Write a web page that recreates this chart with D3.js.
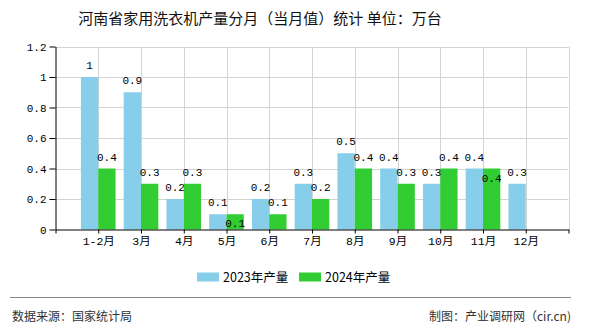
<!DOCTYPE html>
<html><head><meta charset="utf-8">
<script src="https://cdn.jsdelivr.net/npm/d3@7/dist/d3.min.js"></script>
<style>
html,body{margin:0;padding:0;background:#fff;}
svg{display:block;}
</style></head>
<body><svg id="c" width="590" height="330"></svg>
<script>
const categories = ["1-2月","3月","4月","5月","6月","7月","8月","9月","10月","11月","12月"];
const values2023 = [1, 0.9, 0.2, 0.1, 0.2, 0.3, 0.5, 0.4, 0.3, 0.4, 0.3];
const values2024 = [0.4, 0.3, 0.3, 0.1, 0.1, 0.2, 0.4, 0.3, 0.4, 0.4, null];
const seriesNames = ["2023年产量","2024年产量"];
const seriesColors = ["#87CEEB","#32CD32"];
const yTicks = [0, 0.2, 0.4, 0.6, 0.8, 1, 1.2];
const yTickLabels = ["0","0.2","0.4","0.6","0.8","1","1.2"];
const title = "河南省家用洗衣机产量分月（当月值）统计 单位：万台";
const sourceText = "数据来源：国家统计局";
const creditText = "制图：产业调研网（cir.cn)";

(function(){
const svg = d3.select("#c");
const pL = 55.5, pR = 568.5, pT = 46.5, pB = 229.5;
const monoFont = "'Liberation Mono','DejaVu Sans Mono','Noto Sans CJK SC',monospace";
const cjkFont = "'Noto Sans CJK SC','Noto Sans',sans-serif";

const slots = ["__s", ...categories, "__e"];
const x = d3.scalePoint().domain(slots).range([pL, pR]);
const step = x.step();
const xs = d3.scaleBand().domain([0,1]).range([-step*0.405, step*0.405]).paddingInner(0);
const y = d3.scaleLinear().domain([0, 1.2]).range([pB, pT]);

// title
svg.append("text").attr("x", 260).attr("y", 23.5).attr("text-anchor","middle")
  .attr("font-family", cjkFont).attr("font-size", 15).attr("fill","#111").text(title);

// grid
const g = svg.append("g");
g.selectAll("line.hg").data(yTicks.slice(1)).join("line")
  .attr("x1", pL).attr("x2", pR).attr("y1", d=>Math.round(y(d))+0.5).attr("y2", d=>Math.round(y(d))+0.5)
  .attr("stroke","#d3d3d3").attr("stroke-width",1);
g.selectAll("line.vg").data(slots.slice(1)).join("line")
  .attr("x1", d=>Math.round(x(d))+0.5).attr("x2", d=>Math.round(x(d))+0.5)
  .attr("y1", pT).attr("y2", pB)
  .attr("stroke","#d3d3d3").attr("stroke-width",1);

// bars
const series = [values2023, values2024];
series.forEach((vals, si) => {
  svg.append("g").selectAll("rect").data(categories.map((c,i)=>({c, v: vals[i]})).filter(d=>d.v!=null))
    .join("rect")
    .attr("x", d => x(d.c) + xs(si))
    .attr("width", xs.bandwidth())
    .attr("y", d => y(d.v))
    .attr("height", d => y(0) - y(d.v))
    .attr("fill", seriesColors[si]);
});

// labels
const labG = svg.append("g").attr("font-family", monoFont).attr("font-size", 11).attr("fill","#000").attr("text-anchor","middle");
series.forEach((vals, si) => {
  categories.forEach((c, i) => {
    const v = vals[i];
    if (v == null) return;
    let ly = y(v) - 8;
    if (si === 1 && values2023[i] != null && Math.abs(y(values2023[i]) - y(v)) < 12) {
      ly = y(v) + 13; // avoid overlap: push inside bar
    }
    labG.append("text").attr("x", x(c) + xs(si) + xs.bandwidth()/2).attr("y", ly).text(String(v));
  });
});

// axes
const yAxis = d3.axisLeft(y).tickValues(yTicks).tickFormat((d,i)=>yTickLabels[i]).tickSize(6).tickSizeOuter(0);
const ya = svg.append("g").attr("transform", `translate(${pL},0)`).call(yAxis);
ya.select(".domain").attr("stroke","#000");
ya.selectAll(".tick line").attr("stroke","#000");
ya.selectAll(".tick text").attr("font-family", monoFont).attr("font-size", 11).attr("fill","#000").attr("x",-9);

const xAxis = d3.axisBottom(x).tickSize(4).tickSizeOuter(0).tickFormat(d => d.startsWith("__") ? "" : d);
const xa = svg.append("g").attr("transform", `translate(0,${pB})`).call(xAxis);
xa.select(".domain").attr("stroke","#000");
xa.selectAll(".tick line").attr("stroke","#000");
xa.selectAll(".tick text").attr("font-family", monoFont).attr("font-size", 11.5).attr("fill","#000").attr("y", 7);

// legend
const lg = svg.append("g");
const legX = [197, 299];
seriesNames.forEach((n, i) => {
  lg.append("rect").attr("x", legX[i]).attr("y", 272.5).attr("width", 22).attr("height", 9).attr("fill", seriesColors[i]);
  lg.append("text").attr("x", legX[i] + 26).attr("y", 281.5).attr("font-family", cjkFont).attr("font-size", 12.5)
    .attr("fill","#000").text(n);
});

// footer
svg.append("line").attr("x1", 10).attr("x2", 571).attr("y1", 297.5).attr("y2", 297.5).attr("stroke","#888").attr("stroke-width",1);
svg.append("text").attr("x", 12).attr("y", 320.5).attr("font-family", cjkFont).attr("font-size", 12).attr("fill","#333").text(sourceText);
svg.append("text").attr("x", 571).attr("y", 320.5).attr("text-anchor","end").attr("font-family", cjkFont).attr("font-size", 12).attr("fill","#333").text(creditText);
})();
</script></body></html>
